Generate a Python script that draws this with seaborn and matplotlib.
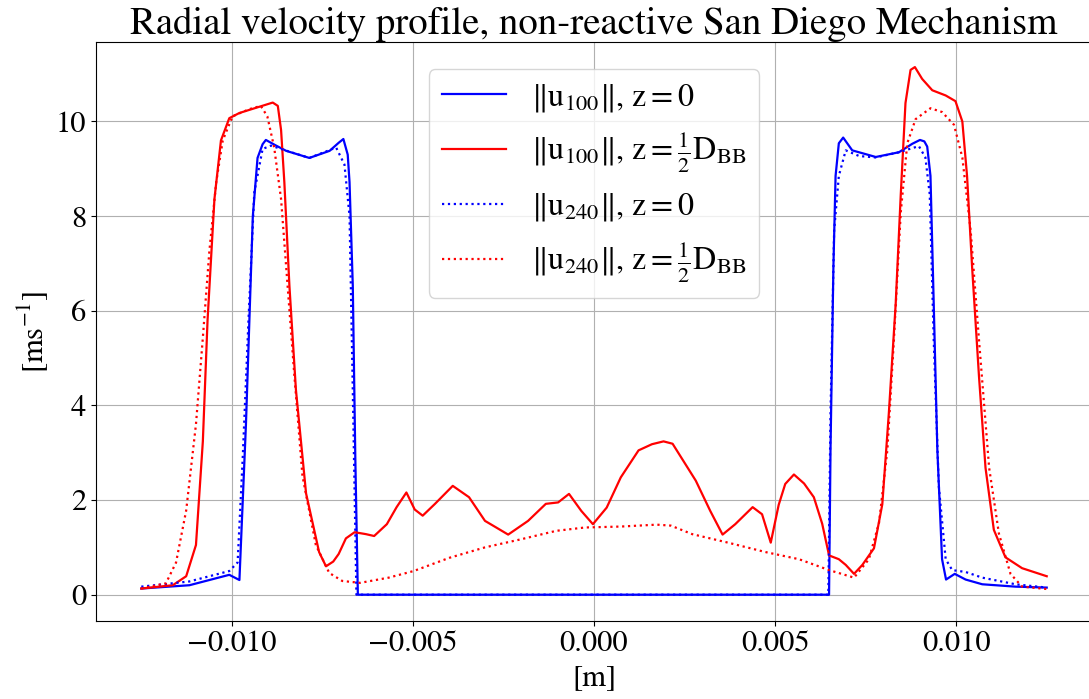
import matplotlib
matplotlib.use("Agg")
import matplotlib.pyplot as plt
import seaborn as sns
import pandas as pd

# radial position in mm (converted to m below), velocity magnitude in m/s
# ||u_100||, z = 0
x_u100_z0 = [-12.5, -11.17, -10.07, -9.79, -9.61, -9.42, -9.29, -9.15, -9.06, -8.8, -8.5, -7.86, -7.3,
             -7.05, -6.92, -6.8, -6.75, -6.66, -6.59, -6.52, 6.49, 6.53, 6.61, 6.67, 6.76, 6.88, 7.13,
             7.78, 8.42, 8.79, 9.0, 9.12, 9.2, 9.29, 9.38, 9.48, 9.61, 9.72, 9.96, 10.26, 10.72, 11.64, 12.5]
y_u100_z0 = [0.13, 0.2, 0.42, 0.31, 3.6, 8.0, 9.23, 9.52, 9.61, 9.5, 9.38, 9.23, 9.38,
             9.55, 9.63, 9.3, 8.72, 6.53, 2.87, 0.0, 0.0, 3.06, 6.92, 8.85, 9.54, 9.66, 9.39,
             9.25, 9.35, 9.53, 9.61, 9.58, 9.47, 8.85, 6.15, 3.06, 0.75, 0.32, 0.44, 0.32, 0.22, 0.17, 0.15]

# ||u_100||, z = D_BB/2
x_u100_zh = [-12.5, -11.63, -11.26, -10.99, -10.8, -10.67, -10.48, -10.3, -10.07, -9.79, -9.33, -8.87,
             -8.73, -8.64, -8.55, -8.41, -8.23, -7.95, -7.59, -7.4, -7.2, -7.05, -6.85, -6.61, -6.3,
             -6.07, -5.72, -5.45, -5.18, -4.95, -4.73, -4.39, -3.9, -3.45, -3.01, -2.7, -2.37, -1.82,
             -1.33, -0.99, -0.69, -0.35, -0.03, 0.35, 0.74, 1.23, 1.6, 1.92, 2.17, 2.81, 3.21, 3.55,
             3.9, 4.38, 4.64, 4.88, 5.1, 5.28, 5.52, 5.8, 6.07, 6.3, 6.49, 6.76, 6.95, 7.18, 7.41, 7.73,
             7.96, 8.14, 8.33, 8.47, 8.6, 8.74, 8.86, 9.06, 9.34, 9.71, 9.98, 10.17, 10.3, 10.44,
             10.63, 10.81, 11.04, 11.36, 11.82, 12.5]
y_u100_zh = [0.13, 0.2, 0.39, 1.05, 3.24, 5.8, 8.36, 9.6, 10.07, 10.18, 10.29, 10.4,
             10.33, 9.82, 8.72, 6.53, 4.33, 2.14, 0.9, 0.6, 0.7, 0.86, 1.19, 1.32, 1.28,
             1.24, 1.49, 1.85, 2.16, 1.8, 1.67, 1.92, 2.3, 2.06, 1.56, 1.42, 1.27, 1.56,
             1.92, 1.95, 2.13, 1.77, 1.49, 1.84, 2.48, 3.05, 3.18, 3.24, 3.19, 2.41, 1.77, 1.27,
             1.49, 1.85, 1.7, 1.1, 1.9, 2.34, 2.54, 2.35, 2.06, 1.5, 0.83, 0.75, 0.63, 0.44, 0.63, 0.98,
             1.91, 3.83, 6.15, 8.46, 10.39, 11.09, 11.15, 10.9, 10.66, 10.55, 10.43, 10.0, 8.85, 6.92,
             4.61, 2.68, 1.37, 0.79, 0.56, 0.39]

# ||u_240||, z = 0
x_u240_z0 = [-12.5, -11.17, -10.07, -9.84, -9.7, -9.54, -9.38, -9.15, -8.92, -8.4, -7.86, -7.12,
             -6.89, -6.75, -6.66, -6.56, 6.47, 6.53, 6.63, 6.76, 6.95, 7.32, 7.78, 8.42, 8.97, 9.15,
             9.27, 9.38, 9.52, 9.71, 9.89, 10.26, 10.72, 11.64, 12.5]
y_u240_z0 = [0.17, 0.28, 0.5, 0.68, 2.87, 5.8, 8.5, 9.42, 9.49, 9.36, 9.23, 9.45,
             9.09, 8.0, 4.33, 0.0, 0.0, 3.83, 7.69, 8.85, 9.39, 9.27, 9.24, 9.35, 9.48, 9.24,
             8.46, 5.38, 2.29, 0.75, 0.52, 0.48, 0.36, 0.22, 0.15]

# ||u_240||, z = D_BB/2
x_u240_zh = [-12.5, -11.82, -11.54, -11.26, -10.99, -10.8, -10.62, -10.43, -10.25, -9.98, -9.52,
             -9.2, -9.02, -8.83, -8.64, -8.46, -8.28, -8.05, -7.68, -7.31, -6.95, -6.46, -5.67,
             -4.98, -3.99, -3.01, -2.02, -1.04, -0.25, 0.74, 1.73, 2.12, 2.71, 3.7, 4.74, 5.66,
             6.49, 7.18, 7.59, 7.87, 8.1, 8.28, 8.47, 8.65, 8.88, 9.29, 9.61, 9.94, 10.17, 10.4,
             10.63, 10.91, 11.18, 11.5, 11.82, 12.5]
y_u240_zh = [0.13, 0.24, 0.68, 1.78, 3.6, 5.43, 7.26, 8.72, 9.6, 10.11, 10.26,
             10.33, 10.11, 9.45, 8.36, 6.53, 4.7, 2.51, 1.05, 0.46, 0.29, 0.25, 0.36,
             0.5, 0.78, 1.0, 1.17, 1.35, 1.42, 1.44, 1.48, 1.46, 1.28, 1.1, 0.9, 0.75,
             0.52, 0.36, 0.75, 1.52, 3.06, 5.38, 8.08, 9.54, 10.05, 10.28, 10.2, 9.93, 9.24, 7.69,
             5.38, 2.68, 1.29, 0.44, 0.17, 0.12]

series = [
    (x_u100_z0, y_u100_z0, "blue", "-", r"$\Vert\mathrm{u}_{100}\Vert$, $\mathrm{z}=0$"),
    (x_u100_zh, y_u100_zh, "red", "-", r"$\Vert\mathrm{u}_{100}\Vert$, $\mathrm{z}=\frac{1}{2}\mathrm{D}_{\mathrm{BB}}$"),
    (x_u240_z0, y_u240_z0, "blue", ":", r"$\Vert\mathrm{u}_{240}\Vert$, $\mathrm{z}=0$"),
    (x_u240_zh, y_u240_zh, "red", ":", r"$\Vert\mathrm{u}_{240}\Vert$, $\mathrm{z}=\frac{1}{2}\mathrm{D}_{\mathrm{BB}}$"),
]

plt.rcParams["font.family"] = ["STIXGeneral", "DejaVu Serif"]
plt.rcParams["mathtext.fontset"] = "stix"
plt.rcParams["axes.unicode_minus"] = True

fig = plt.figure(figsize=(10.89, 6.99), dpi=100)
ax = fig.add_axes([96 / 1089, 78 / 699, 996 / 1089, 579 / 699])

for xs, ys, color, ls, label in series:
    df = pd.DataFrame({"r": [v * 1e-3 for v in xs], "u": ys})
    sns.lineplot(data=df, x="r", y="u", sort=False, estimator=None, color=color,
                 linestyle=ls, linewidth=1.6, label=label, ax=ax)

ax.set_xlim(-0.01375, 0.01375)
ax.set_ylim(-0.556, 11.68)
ax.set_xticks([-0.010, -0.005, 0.0, 0.005, 0.010])
ax.set_xticklabels(["\u22120.010", "\u22120.005", "0.000", "0.005", "0.010"])
ax.grid(True, color="#b0b0b0", linewidth=0.8)
ax.tick_params(labelsize=22)
ax.set_xlabel("[m]", fontsize=22)
ax.set_ylabel(r"[ms$^{-1}$]", fontsize=22)
ax.set_title("Radial velocity profile, non-reactive San Diego Mechanism", fontsize=28, pad=5)
ax.legend(loc="upper center", fontsize=23, borderaxespad=0.85)

fig.savefig("out.png", dpi=100)
